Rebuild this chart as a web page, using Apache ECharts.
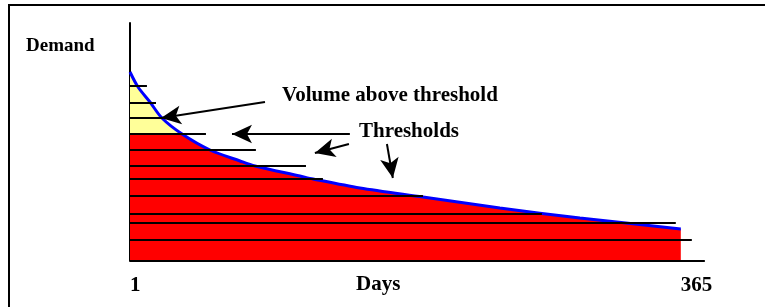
<!DOCTYPE html>
<html>
<head>
<meta charset="utf-8">
<script src="https://cdn.jsdelivr.net/npm/echarts@6/dist/echarts.min.js"></script>
<style>
  html, body { margin: 0; padding: 0; background: #fff; }
  #chart { width: 765px; height: 307px; }
</style>
</head>
<body>
<div id="chart"></div>
<script>
// load duration curve: demand by day, sorted descending
const days = [1, 6.3, 14.2, 22.1, 35.4, 53.9, 73.7, 83.6, 113.3, 122, 152.9, 194.6, 245.4, 298.3, 365]
const demand = [189, 174, 159, 143, 127, 111, 100, 95, 85, 82, 73, 64, 53, 43, 32]

// threshold levels and where each line stops (day)
const thresholdLevels = [175, 158, 143, 127, 111, 95, 82, 65, 47, 38, 21, 0]
const thresholdStarts = [1, 1, 1, 1, 1, 1, 1, 1, 1, 1, -0.3, 1]
const thresholdEnds = [12.2, 18.2, 22.8, 51.2, 84.2, 117.3, 128.5, 194.6, 273.2, 361.7, 372.3, 380.9]

// level used for the volume-above-threshold fill
const activeThreshold = 127

// x tick labels
const dayTicks = [1, 365]

// annotation arrows: [fromDay, fromDemand, toDay, toDemand]
const arrows = [
  [90.2, 159, 21.5, 143],
  [146.3, 127, 68.4, 127],
  [145.7, 117, 123.2, 108],
  [170.8, 117, 174.7, 83]
]

const FONT = 'Liberation Serif'
const Y_MAX = 238
const curve = days.map((d, i) => [d, demand[i]])

const chart = echarts.init(document.getElementById('chart'))

const thresholdSeries = thresholdLevels.map((lv, i) => ({
  type: 'line',
  data: [[thresholdStarts[i], lv], [thresholdEnds[i], lv]],
  symbol: 'none',
  silent: true,
  clip: false,
  lineStyle: { color: '#000', width: 2 },
  z: 4
}))

const option = {
  animation: false,
  grid: { left: 130, top: 23, right: 60, bottom: 46 },
  xAxis: {
    type: 'value',
    min: 1,
    max: 381,
    axisLine: { show: false },
    axisTick: { show: false },
    splitLine: { show: false },
    axisLabel: {
      customValues: dayTicks,
      align: 'left',
      margin: 14,
      color: '#000',
      fontFamily: FONT,
      fontWeight: 'bold',
      fontSize: 21
    }
  },
  yAxis: {
    type: 'value',
    min: 0,
    max: Y_MAX,
    axisLine: { show: true, lineStyle: { color: '#000', width: 2 } },
    axisTick: { show: false },
    axisLabel: { show: false },
    splitLine: { show: false }
  },
  visualMap: {
    show: false,
    type: 'piecewise',
    seriesIndex: 0,
    dimension: 1,
    pieces: [
      { min: 0, max: activeThreshold, color: '#ff0000' },
      { min: activeThreshold, max: Y_MAX, color: '#ffff99' }
    ]
  },
  series: [
    {
      // filled area, yellow above the threshold, red below
      type: 'line',
      data: curve,
      smooth: 0.3,
      symbol: 'none',
      silent: true,
      lineStyle: { width: 0, opacity: 0 },
      areaStyle: { opacity: 1 },
      z: 2
    },
    {
      type: 'line',
      data: curve,
      smooth: 0.3,
      symbol: 'none',
      silent: true,
      lineStyle: { color: '#0000ff', width: 3 },
      z: 3,
      markLine: {
        silent: true,
        symbol: ['none', 'arrow'],
        symbolSize: [14, 20],
        label: { show: false },
        lineStyle: { color: '#000', width: 2, type: 'solid' },
        data: arrows.map(a => [{ coord: [a[0], a[1]] }, { coord: [a[2], a[3]] }])
      }
    },
    ...thresholdSeries
  ],
  graphic: [
    {
      type: 'rect',
      shape: { x: 9, y: 5, width: 800, height: 400 },
      style: { fill: 'none', stroke: '#000', lineWidth: 2 },
      silent: true
    },
    {
      type: 'text',
      style: { x: 26, y: 46, text: 'Demand', verticalAlign: 'middle', fill: '#000', font: 'bold 19px "Liberation Serif"' }
    },
    {
      type: 'text',
      style: { x: 282, y: 96, text: 'Volume above threshold', verticalAlign: 'middle', fill: '#000', font: 'bold 21px "Liberation Serif"' }
    },
    {
      type: 'text',
      style: { x: 359, y: 132, text: 'Thresholds', verticalAlign: 'middle', fill: '#000', font: 'bold 21px "Liberation Serif"' }
    },
    {
      type: 'text',
      style: { x: 356, y: 285, text: 'Days', verticalAlign: 'middle', fill: '#000', font: 'bold 21px "Liberation Serif"' }
    }
  ]
}

chart.setOption(option)
</script>
</body>
</html>
